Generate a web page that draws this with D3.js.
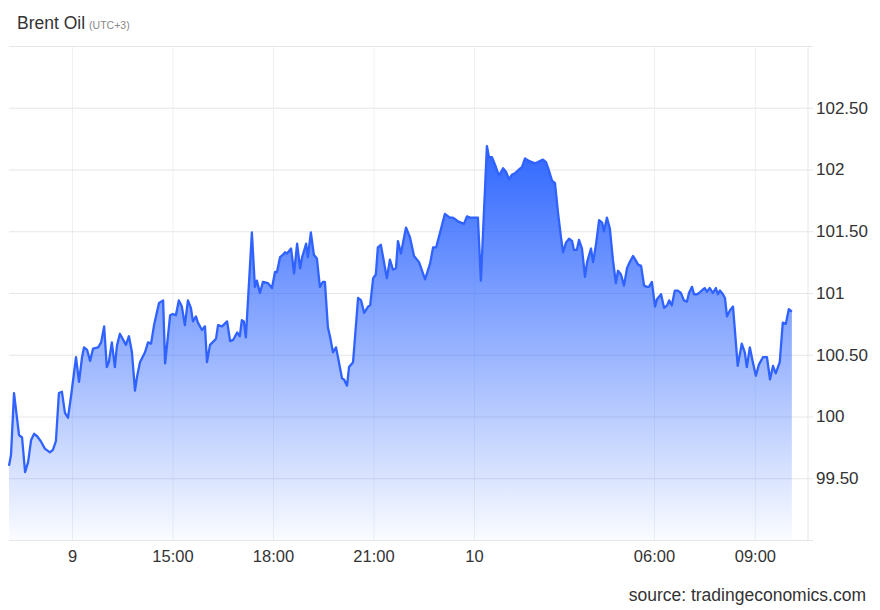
<!DOCTYPE html>
<html><head><meta charset="utf-8">
<script src="https://cdn.jsdelivr.net/npm/d3@7/dist/d3.min.js"></script>
<style>
body{margin:0;background:#fff}
svg{display:block;font-family:"Liberation Sans",Arial,sans-serif}
</style>
</head><body>
<svg id="chart" width="880" height="610"></svg>
<script>
// Time in hours since 00:00 on the 9th (UTC+3)
const hours = [10.12,10.18,10.27,10.42,10.51,10.60,10.69,10.78,10.87,10.96,11.07,11.19,11.34,11.43,11.52,11.61,11.70,11.79,11.88,11.97,
12.12,12.21,12.30,12.36,12.45,12.54,12.63,12.78,12.87,12.96,13.04,13.10,13.19,13.28,13.34,13.43,13.61,13.70,13.79,13.88,
13.94,14.03,14.18,14.27,14.36,14.45,14.54,14.60,14.72,14.78,14.93,15.01,15.10,15.19,15.28,15.37,15.46,15.55,15.61,15.70,
15.76,15.88,15.97,16.03,16.12,16.30,16.36,16.48,16.63,16.72,16.81,16.93,17.01,17.07,17.13,17.19,17.37,17.46,17.52,17.61,
17.70,17.85,17.97,18.06,18.12,18.21,18.30,18.36,18.42,18.48,18.54,18.63,18.72,18.81,18.87,18.99,19.04,19.13,19.22,19.31,
19.40,19.49,19.55,19.64,19.70,19.79,19.88,19.94,20.06,20.12,20.21,20.27,20.39,20.54,20.63,20.72,20.84,20.90,20.99,21.07,
21.13,21.22,21.40,21.49,21.58,21.67,21.73,21.82,21.97,22.09,22.21,22.36,22.54,22.69,22.78,22.87,22.93,23.13,23.28,23.37,
23.43,23.52,23.70,23.79,23.88,23.97,24.13,24.23,24.43,24.50,24.60,24.73,24.83,24.97,25.07,25.17,25.27,25.37,25.50,25.60,
25.70,25.83,26.03,26.13,26.30,26.40,26.50,26.60,26.70,26.80,26.90,26.97,27.07,27.17,27.27,27.33,27.43,27.50,27.60,27.70,
27.77,27.90,27.97,28.07,28.17,28.27,28.33,28.43,28.53,28.63,28.73,28.80,28.90,29.00,29.10,29.17,29.30,29.40,29.47,29.57,
29.67,29.77,29.83,29.93,30.03,30.09,30.21,30.30,30.39,30.45,30.53,30.62,30.71,30.80,30.89,30.98,31.04,31.13,31.19,31.28,
31.34,31.46,31.51,31.57,31.66,31.75,31.84,31.90,31.96,32.05,32.11,32.17,32.26,32.35,32.49,32.61,32.70,32.76,32.85,32.94,
33.03,33.12,33.24,33.36,33.45,33.54,33.62,33.74,33.83,33.92,34.01,34.10];

const prices = [99.60,99.69,100.19,99.85,99.83,99.55,99.63,99.81,99.86,99.84,99.80,99.74,99.71,99.73,99.80,100.19,100.20,100.03,99.99,100.16,
100.48,100.28,100.48,100.56,100.54,100.45,100.55,100.56,100.60,100.73,100.40,100.44,100.60,100.40,100.57,100.67,100.58,100.65,100.52,100.21,
100.32,100.44,100.52,100.60,100.59,100.74,100.85,100.92,100.94,100.43,100.82,100.83,100.82,100.94,100.89,100.74,100.94,100.88,100.77,100.81,
100.76,100.70,100.73,100.44,100.58,100.63,100.74,100.73,100.77,100.61,100.62,100.68,100.65,100.78,100.77,100.64,101.49,101.05,101.10,101.00,
101.09,101.08,101.04,101.17,101.17,101.29,101.31,101.33,101.32,101.34,101.36,101.16,101.40,101.20,101.29,101.40,101.29,101.49,101.31,101.28,
101.05,101.09,101.09,100.72,100.65,100.52,100.56,100.48,100.31,100.30,100.25,100.40,100.44,100.96,100.94,100.84,100.89,100.90,101.12,101.15,
101.37,101.39,101.12,101.27,101.19,101.20,101.42,101.32,101.53,101.45,101.30,101.25,101.11,101.24,101.37,101.37,101.43,101.64,101.61,101.61,
101.60,101.58,101.56,101.62,101.61,101.61,101.61,101.10,102.19,102.10,102.10,102.02,101.95,102.01,101.98,101.92,101.96,101.97,102.00,102.02,
102.09,102.07,102.05,102.06,102.08,102.06,101.99,101.91,101.89,101.65,101.45,101.33,101.41,101.44,101.42,101.35,101.35,101.43,101.36,101.13,
101.25,101.36,101.25,101.40,101.59,101.57,101.50,101.61,101.52,101.27,101.08,101.18,101.15,101.06,101.20,101.24,101.30,101.26,101.23,101.22,
101.06,101.05,101.05,101.09,100.89,100.95,100.99,100.88,100.90,100.94,100.90,101.02,101.02,101.00,100.94,100.93,101.00,101.05,100.99,100.99,
101.00,101.03,101.04,101.01,101.04,101.00,101.04,100.99,101.02,100.99,100.96,100.81,100.86,100.89,100.41,100.59,100.52,100.40,100.56,100.44,
100.33,100.42,100.48,100.48,100.30,100.41,100.35,100.44,100.76,100.75,100.87,100.85];

const xTickHours  = [12, 15, 18, 21, 24, 30, 33];
const xTickLabels = ["9", "15:00", "18:00", "21:00", "10", "06:00", "09:00"];
const yTickValues = [99.5, 100, 100.5, 101, 101.5, 102, 102.5];
const yTickLabels = ["99.50", "100", "100.50", "101", "101.50", "102", "102.50"];
const yGridValues = [99, 99.5, 100, 100.5, 101, 101.5, 102, 102.5, 103];

const data = hours.map((h, i) => ({h, p: prices[i]}));

const svg = d3.select("#chart");
const pLeft = 9, pRight = 808, pTop = 46, pBottom = 540;

// trading-time scale (overnight break compressed)
const x = d3.scaleLinear().domain([10.12, 24, 30, 34.58]).range([pLeft, 474, 654, pRight]);
const y = d3.scaleLinear().domain([99, 103]).range([pBottom, pTop]);

// vertical grid
svg.append("g")
  .attr("transform", `translate(0,${pBottom})`)
  .call(d3.axisBottom(x).tickValues(xTickHours).tickSize(-(pBottom - pTop)).tickFormat(""))
  .call(g => g.select(".domain").remove())
  .call(g => g.selectAll("line").attr("stroke", "#edf1f6").attr("stroke-width", 1));

// horizontal grid
svg.append("g")
  .attr("transform", `translate(${pRight + 5},0)`)
  .call(d3.axisLeft(y).tickValues(yGridValues).tickSize(pRight + 5 - pLeft).tickFormat(""))
  .call(g => g.select(".domain").remove())
  .call(g => g.selectAll("line").attr("stroke", "#e6e6e6").attr("stroke-width", 1));

// right border
svg.append("line").attr("x1", pRight).attr("x2", pRight).attr("y1", pTop).attr("y2", pBottom)
  .attr("stroke", "#e6e6e6");

// gradient
const defs = svg.append("defs");
const grad = defs.append("linearGradient").attr("id", "fillGrad")
  .attr("gradientUnits", "userSpaceOnUse")
  .attr("x1", 0).attr("x2", 0)
  .attr("y1", y(d3.max(prices))).attr("y2", pBottom);
grad.append("stop").attr("offset", 0).attr("stop-color", "#2962ff").attr("stop-opacity", 0.97);
grad.append("stop").attr("offset", 0.5).attr("stop-color", "#2962ff").attr("stop-opacity", 0.5);
grad.append("stop").attr("offset", 1).attr("stop-color", "#2962ff").attr("stop-opacity", 0.02);

const area = d3.area().x(d => x(d.h)).y0(pBottom).y1(d => y(d.p));
const line = d3.line().x(d => x(d.h)).y(d => y(d.p));

svg.append("path").datum(data).attr("d", area).attr("fill", "url(#fillGrad)");
svg.append("path").datum(data).attr("d", line)
  .attr("fill", "none").attr("stroke", "#2f62ff").attr("stroke-width", 2.3)
  .attr("stroke-linejoin", "round");

// x axis labels
svg.append("g")
  .attr("transform", `translate(0,${pBottom})`)
  .call(d3.axisBottom(x).tickValues(xTickHours).tickSize(0).tickPadding(10)
    .tickFormat((d, i) => xTickLabels[i]))
  .call(g => g.select(".domain").remove())
  .call(g => g.selectAll("text").attr("fill", "#333").attr("font-size", 16.5)
    .attr("font-family", "'Liberation Sans', Arial, sans-serif"));

// y axis labels
svg.append("g")
  .attr("transform", `translate(${pRight + 8},0)`)
  .call(d3.axisRight(y).tickValues(yTickValues).tickSize(0).tickPadding(0)
    .tickFormat((d, i) => yTickLabels[i]))
  .call(g => g.select(".domain").remove())
  .call(g => g.selectAll("text").attr("fill", "#333").attr("font-size", 17)
    .attr("font-family", "'Liberation Sans', Arial, sans-serif"));

// title
const t = svg.append("text").attr("x", 17).attr("y", 29).attr("fill", "#333");
t.append("tspan").attr("font-size", 17.5).text("Brent Oil");
t.append("tspan").attr("font-size", 10.5).attr("fill", "#888").attr("dx", 4).text("(UTC+3)");

// source
svg.append("text").attr("x", 866).attr("y", 601).attr("text-anchor", "end")
  .attr("fill", "#333").attr("font-size", 17.5).text("source: tradingeconomics.com");
</script>
</body></html>
